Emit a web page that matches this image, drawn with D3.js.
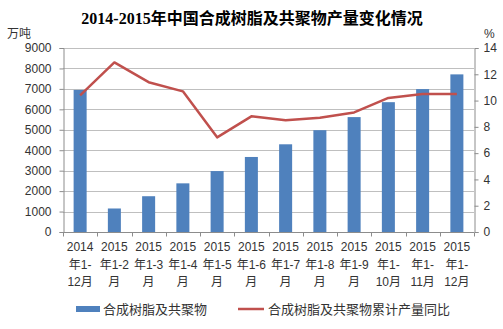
<!DOCTYPE html>
<html>
<head>
<meta charset="utf-8">
<script src="https://cdn.jsdelivr.net/npm/d3@7"></script>
<style>
  html, body { margin: 0; padding: 0; background: #fff; }
  svg { display: block; }
  text { font-family: "Liberation Sans", "Noto Sans CJK SC", sans-serif; fill: #333; }
</style>
</head>
<body>
<svg id="chart" width="503" height="329"></svg>
<script>
// Category labels (multi-line, split on "|")
const categories = [
  "2014|年1-|12月", "2015|年1-2|月", "2015|年1-3|月", "2015|年1-4|月",
  "2015|年1-5|月", "2015|年1-6|月", "2015|年1-7|月", "2015|年1-8|月",
  "2015|年1-9|月", "2015|年1-|10月", "2015|年1-|11月", "2015|年1-|12月"
];
// Output, 万吨
const outputValues = [6950, 1150, 1750, 2380, 2980, 3670, 4290, 4980, 5620, 6350, 6990, 7710];
// Cumulative year-on-year growth, %
const growthValues = [10.4, 12.9, 11.4, 10.7, 7.2, 8.8, 8.5, 8.7, 9.1, 10.2, 10.5, 10.5];
const leftTicks = [0, 1000, 2000, 3000, 4000, 5000, 6000, 7000, 8000, 9000];
const rightTicks = [0, 2, 4, 6, 8, 10, 12, 14];
const seriesNames = ["合成树脂及共聚物", "合成树脂及共聚物累计产量同比"];

const svg = d3.select("#chart");
const m = { left: 63, right: 474, top: 48, bottom: 232 };

const x = d3.scaleBand().domain(d3.range(categories.length)).range([m.left, m.right]).paddingInner(0.62).paddingOuter(0.31);
const xc = d3.scaleBand().domain(d3.range(categories.length)).range([m.left, m.right]);
const yL = d3.scaleLinear().domain([0, 9000]).range([m.bottom, m.top]);
const yR = d3.scaleLinear().domain([0, 14]).range([m.bottom, m.top]);

// Title
svg.append("text")
  .attr("x", 252).attr("y", 24)
  .attr("text-anchor", "middle")
  .style("font-family", "'Liberation Serif', 'Noto Sans CJK SC', serif")
  .style("font-size", "16px").style("font-weight", "bold").style("fill", "#000")
  .text("2014-2015年中国合成树脂及共聚物产量变化情况");

// Axis unit labels
svg.append("text").attr("x", 7).attr("y", 38).style("font-size", "12px").text("万吨");
svg.append("text").attr("x", 484).attr("y", 38).style("font-size", "12px").text("%");

// Horizontal gridlines
svg.append("g").selectAll("line").data(leftTicks.filter(d => d > 0)).join("line")
  .attr("x1", m.left).attr("x2", m.right)
  .attr("y1", d => Math.round(yL(d)) + 0.5).attr("y2", d => Math.round(yL(d)) + 0.5)
  .attr("stroke", "#bfbfbf").attr("stroke-width", 1);

// Left axis
const gL = svg.append("g").attr("transform", `translate(${m.left + 0.5},0)`)
  .call(d3.axisLeft(yL).tickValues(leftTicks).tickSize(4).tickPadding(8).tickFormat(d3.format("d")));
gL.selectAll("path,line").attr("stroke", "#8c8c8c");
gL.selectAll("text").style("font-size", "12px").style("fill", "#333").style("font-family", "'Liberation Sans', sans-serif");

// Right axis
const gR = svg.append("g").attr("transform", `translate(${m.right + 0.5},0)`)
  .call(d3.axisRight(yR).tickValues(rightTicks).tickSize(4).tickPadding(5));
gR.selectAll("path,line").attr("stroke", "#8c8c8c");
gR.selectAll("text").style("font-size", "12px").style("fill", "#333").style("font-family", "'Liberation Sans', sans-serif");

// Bars
svg.append("g").selectAll("rect").data(outputValues).join("rect")
  .attr("x", (d, i) => x(i)).attr("width", x.bandwidth())
  .attr("y", d => yL(d)).attr("height", d => yL(0) - yL(d))
  .attr("fill", "#4f81bd");

// Bottom axis with ticks at category boundaries
const gB = svg.append("g").attr("transform", `translate(0,${m.bottom + 0.5})`);
gB.append("line").attr("x1", m.left).attr("x2", m.right).attr("stroke", "#8c8c8c");
gB.selectAll("line.tick").data(d3.range(categories.length + 1)).join("line")
  .attr("class", "tick")
  .attr("x1", i => Math.round(m.left + i * xc.step()) + 0.5)
  .attr("x2", i => Math.round(m.left + i * xc.step()) + 0.5)
  .attr("y1", 0).attr("y2", 4).attr("stroke", "#8c8c8c");

// Category labels
const lbl = svg.append("g").selectAll("text").data(categories).join("text")
  .attr("text-anchor", "middle")
  .attr("x", (d, i) => xc(i) + xc.bandwidth() / 2)
  .attr("y", 251)
  .style("font-size", "12px");
lbl.selectAll("tspan").data(d => d.split("|")).join("tspan")
  .attr("x", function () { return d3.select(this.parentNode).attr("x"); })
  .attr("dy", (d, i) => i === 0 ? 0 : 17.5)
  .text(d => d);

// Growth line
const line = d3.line().x((d, i) => xc(i) + xc.bandwidth() / 2).y(d => yR(d));
svg.append("path").datum(growthValues)
  .attr("d", line).attr("fill", "none")
  .attr("stroke", "#c0504d").attr("stroke-width", 2.5).attr("stroke-linejoin", "round");

// Legend
const lg = svg.append("g");
lg.append("rect").attr("x", 76).attr("y", 306).attr("width", 24).attr("height", 6).attr("fill", "#4f81bd");
lg.append("text").attr("x", 103).attr("y", 314).style("font-size", "13px").text(seriesNames[0]);
lg.append("line").attr("x1", 238).attr("x2", 264).attr("y1", 309).attr("y2", 309)
  .attr("stroke", "#c0504d").attr("stroke-width", 2.5);
lg.append("text").attr("x", 268).attr("y", 314).style("font-size", "13px").text(seriesNames[1]);
</script>
</body>
</html>
